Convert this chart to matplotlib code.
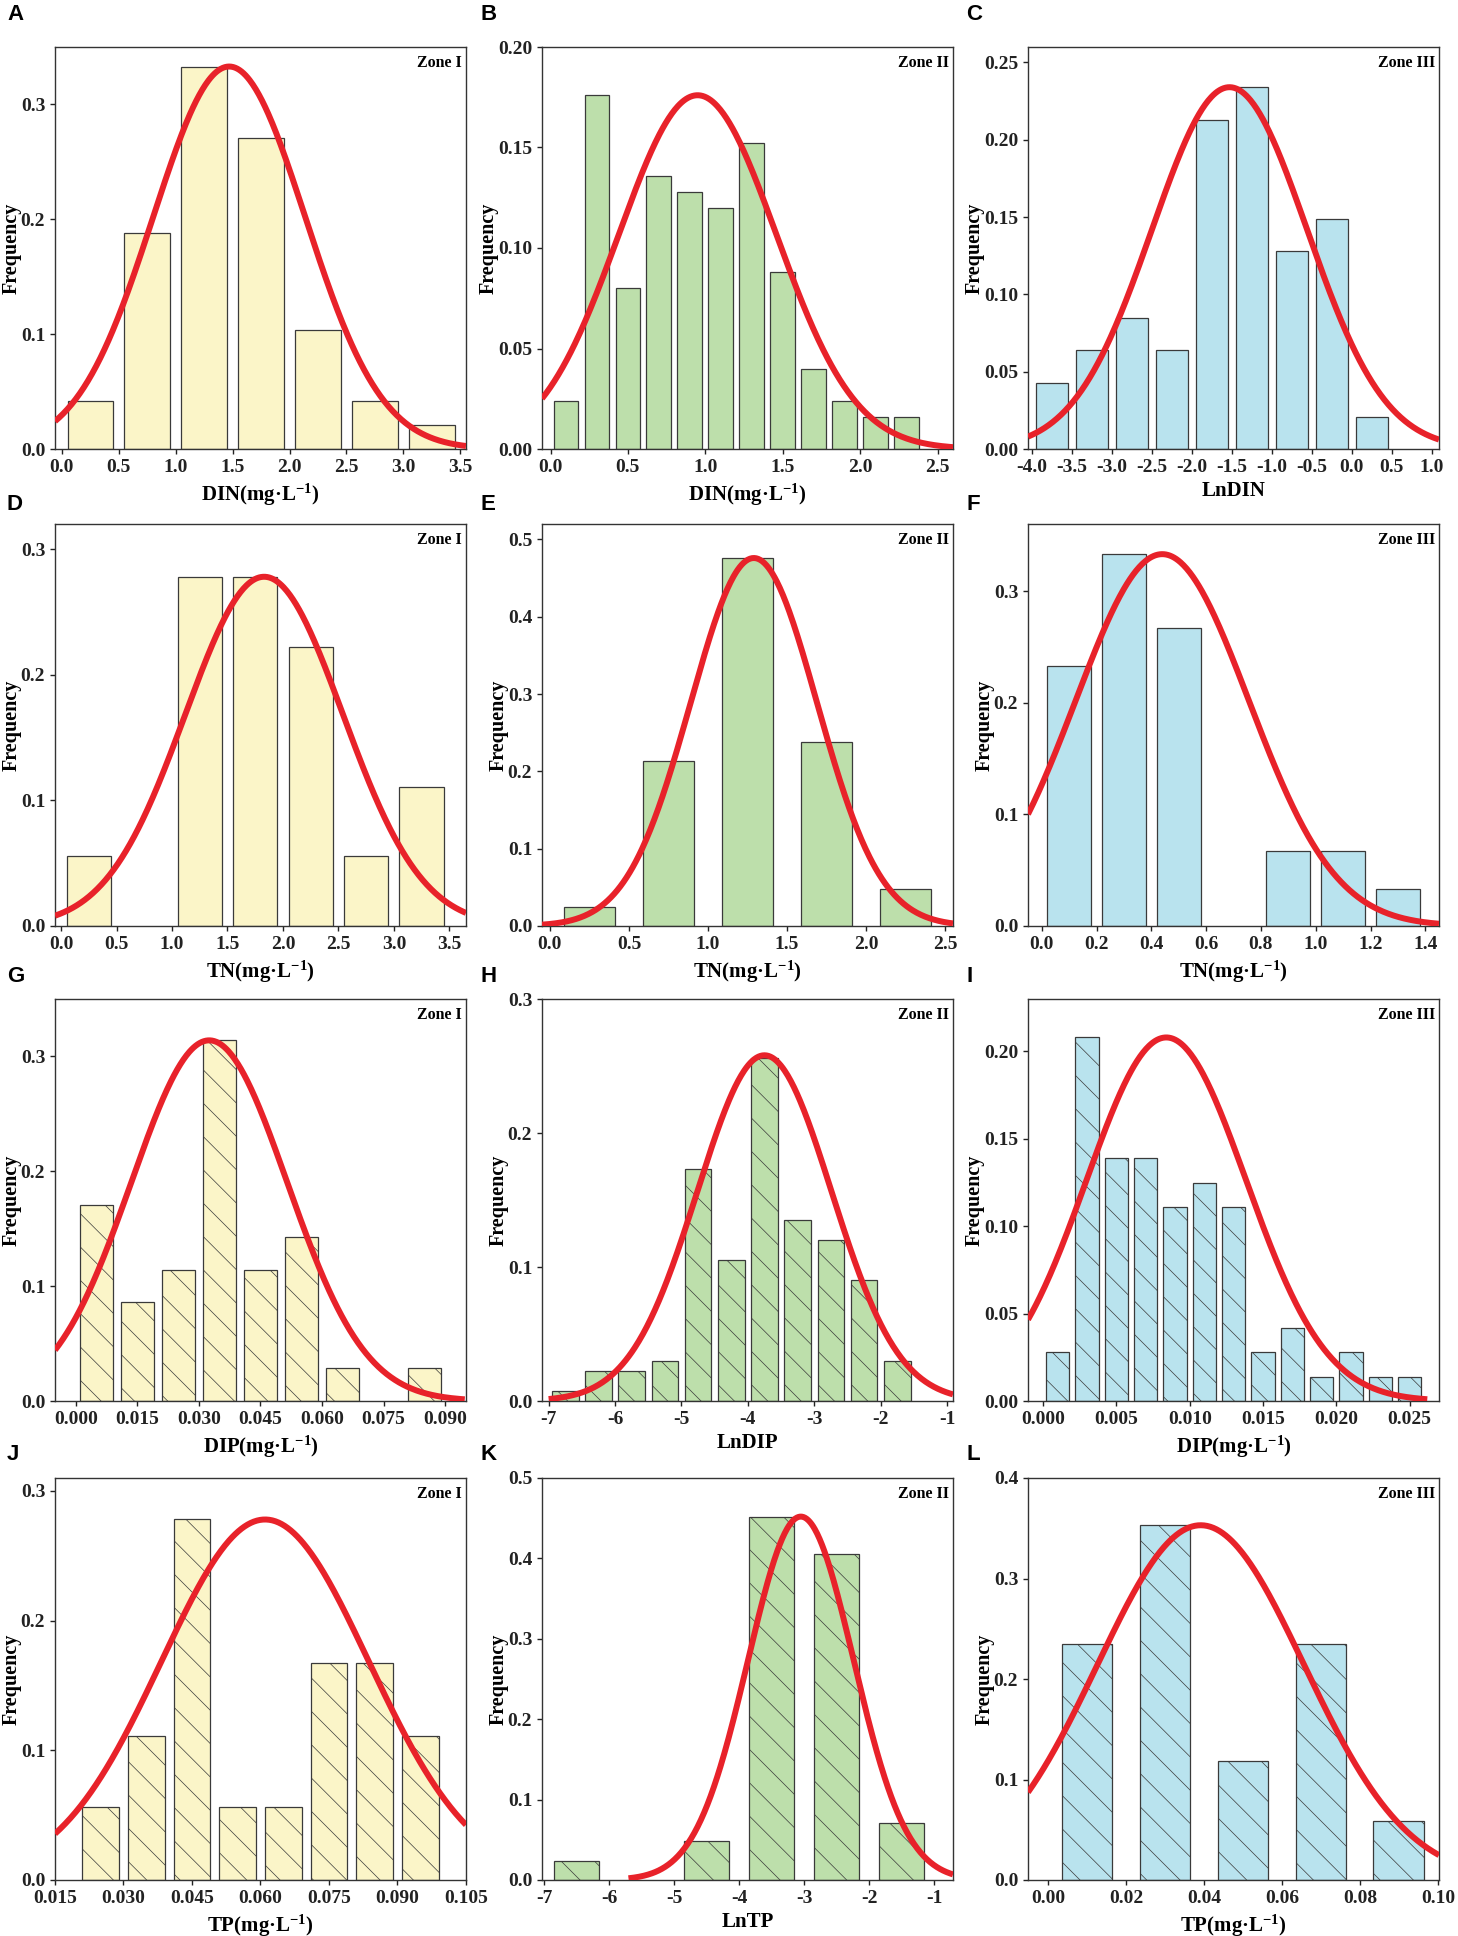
import numpy as np
import matplotlib
matplotlib.use("Agg")
import matplotlib.pyplot as plt
from matplotlib.ticker import FormatStrFormatter

plt.rcParams.update({
    "font.family": "Liberation Serif",
    "font.weight": "bold",
    "mathtext.fontset": "custom",
    "mathtext.bf": "Liberation Serif:bold",
    "mathtext.rm": "Liberation Serif:bold",
    "mathtext.default": "bf",
    "axes.unicode_minus": False,
    "hatch.linewidth": 0.5,
})

# ---- data: bar centres and relative frequencies per panel ----
# Zone I / II / III  for DIN, TN, DIP, TP
a_x = [0.25, 0.75, 1.25, 1.75, 2.25, 2.75, 3.25]
a_f = [0.042, 0.188, 0.333, 0.271, 0.104, 0.042, 0.021]

b_x = [0.1, 0.3, 0.5, 0.7, 0.9, 1.1, 1.3, 1.5, 1.7, 1.9, 2.1, 2.3]
b_f = [0.024, 0.176, 0.080, 0.136, 0.128, 0.120, 0.152, 0.088, 0.040, 0.024, 0.016, 0.016]

c_x = [-3.75, -3.25, -2.75, -2.25, -1.75, -1.25, -0.75, -0.25, 0.25]
c_f = [0.043, 0.064, 0.085, 0.064, 0.213, 0.234, 0.128, 0.149, 0.021]

d_x = [0.25, 1.25, 1.75, 2.25, 2.75, 3.25]
d_f = [0.056, 0.278, 0.278, 0.222, 0.056, 0.111]

e_x = [0.25, 0.75, 1.25, 1.75, 2.25]
e_f = [0.024, 0.214, 0.476, 0.238, 0.048]

f_x = [0.1, 0.3, 0.5, 0.9, 1.1, 1.3]
f_f = [0.233, 0.333, 0.267, 0.067, 0.067, 0.033]

g_x = [0.005, 0.015, 0.025, 0.035, 0.045, 0.055, 0.065, 0.085]
g_f = [0.171, 0.086, 0.114, 0.314, 0.114, 0.143, 0.029, 0.029]

h_x = [-6.75, -6.25, -5.75, -5.25, -4.75, -4.25, -3.75, -3.25, -2.75, -2.25, -1.75]
h_f = [0.0075, 0.0226, 0.0226, 0.030, 0.173, 0.105, 0.256, 0.135, 0.120, 0.090, 0.030]

i_x = [0.001, 0.003, 0.005, 0.007, 0.009, 0.011, 0.013, 0.015, 0.017, 0.019, 0.021, 0.023, 0.025]
i_f = [0.028, 0.208, 0.139, 0.139, 0.111, 0.125, 0.111, 0.028, 0.042, 0.014, 0.028, 0.014, 0.014]

j_x = [0.025, 0.035, 0.045, 0.055, 0.065, 0.075, 0.085, 0.095]
j_f = [0.056, 0.111, 0.278, 0.056, 0.056, 0.167, 0.167, 0.111]

k_x = [-6.5, -4.5, -3.5, -2.5, -1.5]
k_f = [0.024, 0.048, 0.452, 0.405, 0.071]

l_x = [0.01, 0.03, 0.05, 0.07, 0.09]
l_f = [0.235, 0.353, 0.118, 0.235, 0.059]

# fitted normal curves: mean, sd, peak height
a_fit = (1.47, 0.668, 0.333)
b_fit = (0.95, 0.509, 0.176)
c_fit = (-1.53, 0.97, 0.234)
d_fit = (1.83, 0.71, 0.278)
e_fit = (1.29, 0.40, 0.476)
f_fit = (0.44, 0.316, 0.333)
g_fit = (0.0325, 0.019, 0.314)
h_fit = (-3.75, 1.01, 0.258)
i_fit = (0.0084, 0.00545, 0.208)
j_fit = (0.061, 0.0227, 0.278)
k_fit = (-3.05, 0.81, 0.452)
l_fit = (0.0392, 0.0265, 0.353)

xlabels = ["DIN(mg·L$^{-1}$)", "DIN(mg·L$^{-1}$)", "LnDIN",
           "TN(mg·L$^{-1}$)", "TN(mg·L$^{-1}$)", "TN(mg·L$^{-1}$)",
           "DIP(mg·L$^{-1}$)", "LnDIP", "DIP(mg·L$^{-1}$)",
           "TP(mg·L$^{-1}$)", "LnTP", "TP(mg·L$^{-1}$)"]
zones = ["Zone I", "Zone II", "Zone III"]
letters = list("ABCDEFGHIJKL")

yellow = "#FBF5C8"
green = "#BDDFAB"
blue = "#B9E3EE"
red = "#E8222A"

# panel settings: data, fit, bar width, xlim, xticks, xfmt, ylim, yticks, yfmt, curve range, hatch
panels = [
    (a_x, a_f, a_fit, 0.4, (-0.06, 3.55), np.arange(0, 3.51, 0.5), "%.1f", 0.35, np.arange(0, 0.31, 0.1), "%.1f", None, None),
    (b_x, b_f, b_fit, 0.16, (-0.055, 2.6), np.arange(0, 2.51, 0.5), "%.1f", 0.20, np.arange(0, 0.201, 0.05), "%.2f", None, None),
    (c_x, c_f, c_fit, 0.4, (-4.05, 1.09), np.arange(-4, 1.01, 0.5), "%.1f", 0.26, np.arange(0, 0.251, 0.05), "%.2f", None, None),
    (d_x, d_f, d_fit, 0.4, (-0.055, 3.65), np.arange(0, 3.51, 0.5), "%.1f", 0.32, np.arange(0, 0.31, 0.1), "%.1f", None, None),
    (e_x, e_f, e_fit, 0.32, (-0.05, 2.55), np.arange(0, 2.51, 0.5), "%.1f", 0.52, np.arange(0, 0.51, 0.1), "%.1f", None, None),
    (f_x, f_f, f_fit, 0.16, (-0.05, 1.45), np.arange(0, 1.41, 0.2), "%.1f", 0.36, np.arange(0, 0.31, 0.1), "%.1f", None, None),
    (g_x, g_f, g_fit, 0.008, (-0.0051, 0.0951), np.arange(0, 0.0901, 0.015), "%.3f", 0.35, np.arange(0, 0.31, 0.1), "%.1f", (-0.0051, 0.0948), "\\"),
    (h_x, h_f, h_fit, 0.4, (-7.1, -0.91), np.arange(-7, -0.99, 1), "%d", 0.30, np.arange(0, 0.31, 0.1), "%.1f", (-7.0, -0.91), "\\"),
    (i_x, i_f, i_fit, 0.0016, (-0.00103, 0.0270), np.arange(0, 0.02501, 0.005), "%.3f", 0.23, np.arange(0, 0.201, 0.05), "%.2f", (-0.00103, 0.0262), "\\"),
    (j_x, j_f, j_fit, 0.008, (0.015, 0.105), np.arange(0.015, 0.1051, 0.015), "%.3f", 0.31, np.arange(0, 0.31, 0.1), "%.1f", None, "\\"),
    (k_x, k_f, k_fit, 0.7, (-7.03, -0.71), np.arange(-7, -0.99, 1), "%d", 0.50, np.arange(0, 0.51, 0.1), "%.1f", (-5.7, -0.71), "\\"),
    (l_x, l_f, l_fit, 0.013, (-0.0051, 0.1003), np.arange(0, 0.1001, 0.02), "%.2f", 0.40, np.arange(0, 0.41, 0.1), "%.1f", None, "\\"),
]
colors = [yellow, green, blue]

W, H = 1458, 1936
fig = plt.figure(figsize=(W / 100, H / 100), dpi=100)

col_left = [55, 542, 1028]
row_top = [47, 524, 999, 1478]
ax_w, ax_h = 411, 402
letter_x = [7, 481, 966]
letter_y = [15, 505, 977, 1455]

for idx, p in enumerate(panels):
    xs, fs, fit, bw, xlim, xticks, xfmt, ytop, yticks, yfmt, crange, hatch = p
    r, c = divmod(idx, 3)
    ax = fig.add_axes([col_left[c] / W, 1 - (row_top[r] + ax_h) / H, ax_w / W, ax_h / H])

    ax.bar(xs, fs, width=bw, color=colors[c], edgecolor="#3a3a3a",
           linewidth=0.9, hatch=hatch, zorder=2)

    mu, sd, peak = fit
    lo, hi = crange if crange else xlim
    xx = np.linspace(lo, hi, 400)
    ax.plot(xx, peak * np.exp(-0.5 * ((xx - mu) / sd) ** 2), color=red, lw=4.3, zorder=3,
            solid_capstyle="butt")

    ax.set_xlim(*xlim)
    ax.set_ylim(0, ytop)
    ax.set_xticks(xticks)
    ax.set_yticks(yticks)
    ax.xaxis.set_major_formatter(FormatStrFormatter(xfmt))
    ax.yaxis.set_major_formatter(FormatStrFormatter(yfmt))
    ax.tick_params(direction="out", length=3.6, width=1.0, labelsize=14, colors="#222222",
                   top=False, right=False)
    for lab in ax.get_xticklabels() + ax.get_yticklabels():
        lab.set_fontweight("bold")
    for s in ax.spines.values():
        s.set_linewidth(1.0)
        s.set_color("#333333")

    ax.set_xlabel(xlabels[idx], fontsize=15, fontweight="bold", labelpad=4)
    ax.set_ylabel("Frequency", fontsize=14.5, fontweight="bold", labelpad=-0.5)
    ax.text(0.99, 0.96, zones[c], transform=ax.transAxes, ha="right", va="center",
            fontsize=11.5, fontweight="bold", zorder=4)

    fig.text(letter_x[c] / W, 1 - letter_y[r] / H, letters[idx], family="Liberation Sans",
             fontweight="bold", fontsize=16, ha="left", va="center")

fig.savefig("out.png", dpi=100)
